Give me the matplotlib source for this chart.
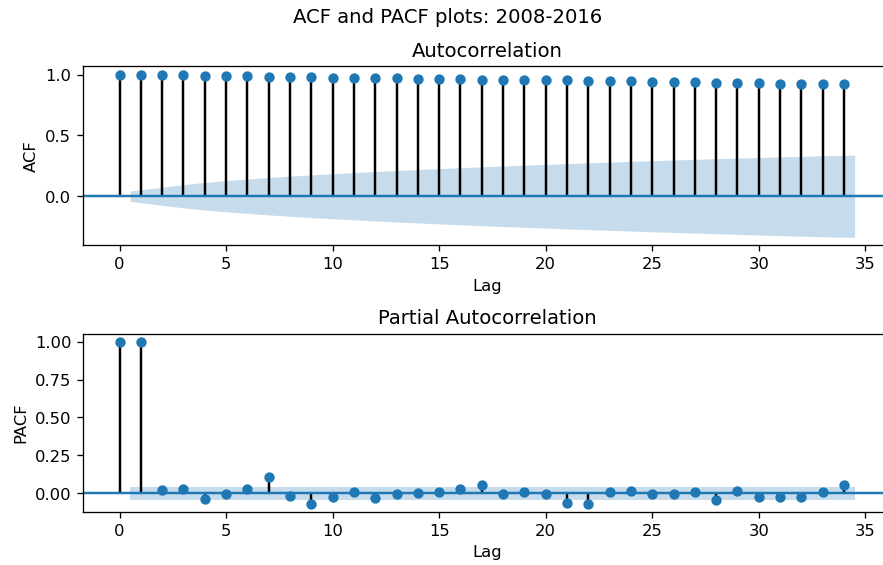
import numpy as np
import matplotlib
matplotlib.use("Agg")
import matplotlib.pyplot as plt
from matplotlib.ticker import MultipleLocator

lags = np.arange(35)

acf_vals = [1.000, 0.997, 0.995, 0.992, 0.989, 0.986, 0.984, 0.981, 0.979,
            0.978, 0.975, 0.973, 0.970, 0.968, 0.967, 0.964, 0.962, 0.959,
            0.956, 0.955, 0.953, 0.951, 0.950, 0.948, 0.945, 0.942, 0.940,
            0.937, 0.934, 0.932, 0.929, 0.926, 0.925, 0.923, 0.920]

pacf_vals = [1.000, 1.000, 0.024, 0.026, -0.035, -0.006, 0.031, 0.106,
             -0.015, -0.068, -0.022, 0.005, -0.033, -0.004, 0.003, 0.011,
             0.026, 0.053, -0.006, 0.009, -0.004, -0.063, -0.070, 0.007,
             0.013, -0.006, -0.006, 0.005, -0.043, 0.017, -0.022, -0.026,
             -0.022, 0.011, 0.053]

nobs = 2080
z = 1.96

acf_arr = np.array(acf_vals)
pacf_arr = np.array(pacf_vals)

# Bartlett standard errors for the ACF, constant 1/sqrt(n) for the PACF
varacf = np.ones(len(lags)) / nobs
varacf[0] = 0
varacf[2:] *= 1 + 2 * np.cumsum(acf_arr[1:-1] ** 2)
acf_band = z * np.sqrt(varacf)
pacf_band = np.full(len(lags), z / np.sqrt(nobs))

# band runs half a lag past the first and last plotted lags
band_x = lags[1:].astype(float)
band_x[0] -= 0.5
band_x[-1] += 0.5

dpi = 118
fig = plt.figure(figsize=(883.4 / dpi, 565.4 / dpi), dpi=dpi)
ax1 = fig.add_axes([0.0937, 0.5651, 0.9154, 0.3168])
ax2 = fig.add_axes([0.0937, 0.0938, 0.9154, 0.3156])


def corr_plot(ax, vals, band, title, ylabel, ystep):
    ax.vlines(lags, [0], vals, colors="k", linewidth=1.5)
    ax.axhline(0, color="C0", linewidth=1.5)
    ax.plot(lags, vals, "o", color="C0", markersize=5.3, linestyle="None")
    ax.fill_between(band_x, -band[1:], band[1:], alpha=0.25, color="C0",
                    linewidth=0)
    ax.margins(0.05)
    ax.yaxis.set_major_locator(MultipleLocator(ystep))
    ax.set_title(title)
    ax.set_xlabel("Lag")
    ax.set_ylabel(ylabel)


corr_plot(ax1, acf_arr, acf_band, "Autocorrelation", "ACF", 0.5)
corr_plot(ax2, pacf_arr, pacf_band, "Partial Autocorrelation", "PACF", 0.25)

fig.suptitle("ACF and PACF plots: 2008-2016", x=0.507, y=0.985)

fig.savefig("out.png", dpi=dpi)
